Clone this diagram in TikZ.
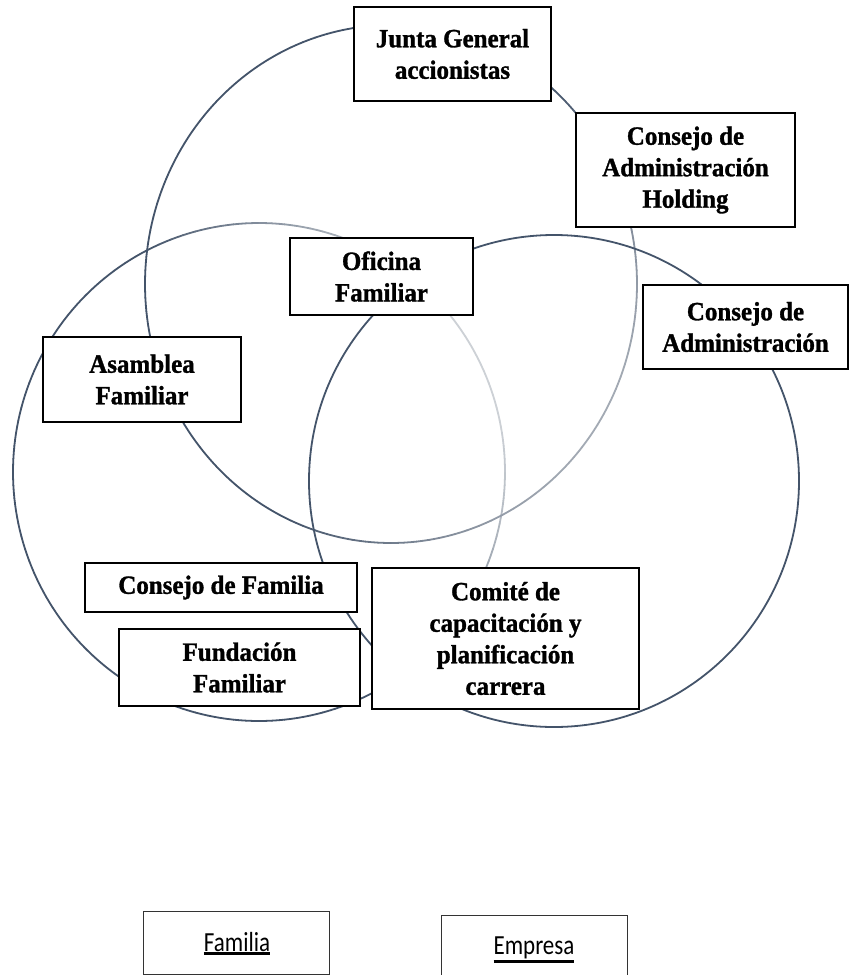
\documentclass[tikz,border=0pt]{standalone}
\usepackage{fontspec}
\usepackage{graphicx}
\setmainfont{Liberation Serif}[FakeStretch=0.95, BoldFeatures={FakeBold=1.2}]
\newfontfamily\calibrifont{Carlito}
\definecolor{darkc}{HTML}{44546A}
\definecolor{lightA}{HTML}{A3AAB4}
\definecolor{lightB}{HTML}{CDD1D6}
\newcommand\myul[1]{\scalebox{1}[1.2]{\vtop{\hbox{#1}\kern1pt\hrule height 2.4pt}}}
\begin{document}
\begin{tikzpicture}[x=1pt,y=-1pt,
  orgbox/.style={draw=black, fill=white, line width=2pt, align=center, inner sep=0pt,
    font=\fontsize{26.3}{31.5}\selectfont\bfseries},
  legbox/.style={draw=black!80, line width=1pt, fill=white, inner sep=0pt},
  legtext/.style={font=\calibrifont\fontsize{23}{27}\selectfont, inner sep=0pt, anchor=base},
  ring/.style={line width=1.8pt, line cap=round}]
\clip (0,0) rectangle (849,975);
\fill[white] (0,0) rectangle (849,975);
% Circle B (Familia) - gradient stroke
\foreach \a in {0,3,...,357}{
  \pgfmathsetmacro\pr{259+246*cos(\a+1.5)-0.5*(472+249*sin(\a+1.5))}
  \pgfmathtruncatemacro\p{max(0,min(100,(\pr-20)/2.7))}
  \colorlet{segc}{lightB!\p!darkc}
  \draw[ring, segc] plot[domain=\a:\a+3, samples=3, variable=\t] ({259+246*cos(\t)},{472+249*sin(\t)});
}
% Circle A (top) - gradient stroke
\foreach \a in {0,3,...,357}{
  \pgfmathsetmacro\pr{391+246*cos(\a+1.5)+0.6*(284+259*sin(\a+1.5))}
  \pgfmathtruncatemacro\p{max(0,min(100,(\pr-600)/2.5))}
  \colorlet{segc}{lightA!\p!darkc}
  \draw[ring, segc] plot[domain=\a:\a+3, samples=3, variable=\t] ({391+246*cos(\t)},{284+259*sin(\t)});
}
% Circle C (Empresa)
\draw[ring, darkc] (554,481) ellipse [x radius=245, y radius=246];

% Boxes
\node[orgbox, minimum width=197pt, minimum height=94pt] (junta) at (452.5,54) {Junta General\\accionistas};
\node[orgbox, minimum width=219pt, minimum height=114pt] (holding) at (685.5,170) {Consejo de\\Administración\\Holding};
\node[orgbox, minimum width=183pt, minimum height=77pt] (oficina) at (381.5,276.5) {Oficina\\Familiar};
\node[orgbox, minimum width=205pt, minimum height=84pt] (consejoadm) at (745.5,327) {Consejo de\\Administración};
\node[orgbox, minimum width=198pt, minimum height=85pt] (asamblea) at (142,379.5) {Asamblea\\Familiar};
\node[orgbox, minimum width=272pt, minimum height=49pt] (consejofam) at (221,587.5) {Consejo de Familia};
\node[orgbox, minimum width=241pt, minimum height=77pt] (fundacion) at (239.5,667.5) {Fundación\\Familiar};
\node[orgbox, minimum width=267pt, minimum height=141pt] (comite) at (505.5,638.5) {Comité de\\capacitación y\\planificación\\carrera};

% Legend
\node[legbox, minimum width=186pt, minimum height=63pt] (familia) at (236,942.5) {};
\node[legtext] (familiatxt) at (237,951) {\myul{Familia}};
\node[legbox, minimum width=186pt, minimum height=72pt] (empresa) at (534,951) {};
\node[legtext] (empresatxt) at (534,954) {\myul{Empresa}};
\end{tikzpicture}
\end{document}
